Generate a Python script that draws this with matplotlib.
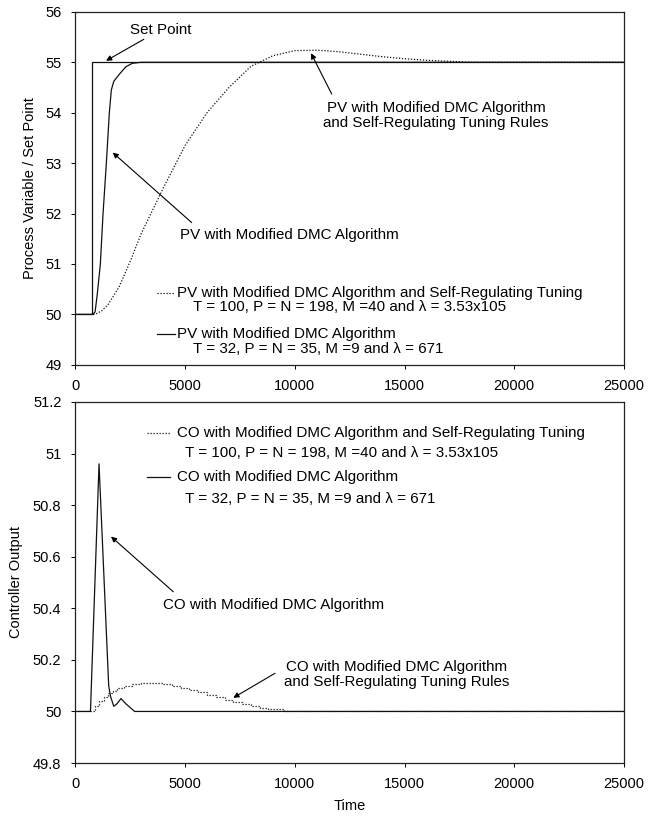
"""DMC set point response: process variable and controller output"""
import matplotlib
matplotlib.use("Agg")
import matplotlib.pyplot as plt

plt.rcParams['font.family'] = ['Liberation Sans', 'DejaVu Sans']
plt.rcParams['font.size'] = 10.9

# set point step
sp_time = [0, 780, 780, 25000]
sp_value = [50, 50, 55, 55]

# PV, modified DMC
pv_time = [0, 800, 900, 1000, 1140, 1263, 1414, 1550, 1640, 1750, 2000, 2300, 2600, 3000, 25000]
pv_value = [50, 50, 50.05, 50.4, 51, 52, 53, 54, 54.45, 54.62, 54.76, 54.91, 54.98, 55, 55]

# PV, modified DMC with self-regulating tuning
pv_sr_time = [0, 900, 1200, 1500, 2000, 2500, 3000, 3500, 4000, 5000, 6000, 7000, 8000,
              9000, 10000, 11000, 12000, 13000, 14000, 15000, 16000, 17000, 18000, 25000]
pv_sr_value = [50, 50, 50.07, 50.2, 50.55, 51.05, 51.6, 52.05, 52.5, 53.35, 54.0, 54.5, 54.92,
               55.13, 55.23, 55.24, 55.21, 55.16, 55.11, 55.07, 55.04, 55.02, 55.0, 55]

# CO, modified DMC
co_time = [0, 690, 1080, 1520, 1600, 1750, 1900, 2080, 2300, 2700, 25000]
co_value = [50, 50, 50.96, 50.10, 50.06, 50.02, 50.03, 50.05, 50.03, 50.0, 50]

# CO, modified DMC with self-regulating tuning (held between samples)
co_sr_time = [0, 750, 900, 1100, 1300, 1500, 1700, 1900, 2200, 2600, 3000, 3600, 4000, 4400,
              4800, 5200, 5600, 6000, 6400, 6800, 7200, 7600, 8000, 8400, 8800, 9500, 25000]
co_sr_value = [50, 50, 50.02, 50.04, 50.055, 50.07, 50.08, 50.09, 50.1, 50.105, 50.11, 50.11,
               50.105, 50.1, 50.09, 50.085, 50.075, 50.065, 50.055, 50.045, 50.035, 50.03,
               50.02, 50.015, 50.01, 50.0, 50.0]

xticks = [0, 5000, 10000, 15000, 20000, 25000]
pv_ticks = [49, 50, 51, 52, 53, 54, 55, 56]
co_ticks = [49.8, 50, 50.2, 50.4, 50.6, 50.8, 51, 51.2]

line_kw = dict(color='#111111', lw=0.9)
dot_kw = dict(color='#111111', lw=0.9, linestyle=(0, (1, 1.4)))
arrow_kw = dict(arrowstyle='-|>', color='black', lw=0.8, mutation_scale=8, shrinkA=0, shrinkB=0)

fig = plt.figure(figsize=(6.55, 8.18), dpi=100)
ax1 = fig.add_axes([0.115, 0.554, 0.8377, 0.4315])
ax2 = fig.add_axes([0.115, 0.0672, 0.8377, 0.4414])

# top panel
ax1.plot(sp_time, sp_value, **line_kw)
ax1.plot(pv_sr_time, pv_sr_value, **dot_kw)
ax1.plot(pv_time, pv_value, **line_kw)
ax1.set_xlim(0, 25000)
ax1.set_ylim(49, 56)
ax1.set_xticks(xticks)
ax1.set_yticks(pv_ticks)
ax1.set_ylabel('Process Variable / Set Point', fontsize=10.5)
ax1.yaxis.set_label_coords(-0.07, 0.5)

ax1.annotate('Set Point', xy=(1399, 55.03), xytext=(3905, 55.65),
             ha='center', va='center', arrowprops=arrow_kw)
ax1.annotate('', xy=(1704, 53.21), xytext=(5303, 51.82), arrowprops=arrow_kw)
ax1.text(9773, 51.57, 'PV with Modified DMC Algorithm', ha='center', va='center')
ax1.annotate('', xy=(10739, 55.18), xytext=(11682, 54.37), arrowprops=arrow_kw)
ax1.text(16436, 53.94, 'PV with Modified DMC Algorithm\nand Self-Regulating Tuning Rules',
         ha='center', va='center', linespacing=1.1)

ax1.plot([3723, 4543], [50.42, 50.42], **dot_kw)
ax1.text(4634, 50.42, 'PV with Modified DMC Algorithm and Self-Regulating Tuning', va='center')
ax1.text(5362, 50.15, 'T = 100, P = N = 198, M =40 and λ = 3.53x105', va='center')
ax1.plot([3723, 4543], [49.62, 49.62], **line_kw)
ax1.text(4634, 49.62, 'PV with Modified DMC Algorithm', va='center')
ax1.text(5362, 49.32, 'T = 32, P = N = 35, M =9 and λ = 671', va='center')

# bottom panel
ax2.step(co_sr_time, co_sr_value, where='post', **dot_kw)
ax2.plot(co_time, co_value, **line_kw)
ax2.set_xlim(0, 25000)
ax2.set_ylim(49.8, 51.2)
ax2.set_xticks(xticks)
ax2.set_yticks(co_ticks)
ax2.set_yticklabels(['49.8', '50', '50.2', '50.4', '50.6', '50.8', '51', '51.2'])
ax2.set_ylabel('Controller Output', fontsize=10.5)
ax2.yaxis.set_label_coords(-0.095, 0.5)
ax2.set_xlabel('Time', fontsize=10.5, labelpad=6)

ax2.plot([3253, 4314], [51.079, 51.079], **dot_kw)
ax2.text(4620, 51.079, 'CO with Modified DMC Algorithm and Self-Regulating Tuning', va='center')
ax2.text(4998, 51.002, 'T = 100, P = N = 198, M =40 and λ = 3.53x105', va='center')
ax2.plot([3253, 4314], [50.910, 50.910], **line_kw)
ax2.text(4620, 50.910, 'CO with Modified DMC Algorithm', va='center')
ax2.text(4998, 50.824, 'T = 32, P = N = 35, M =9 and λ = 671', va='center')

ax2.annotate('', xy=(1627, 50.678), xytext=(4465, 50.464), arrowprops=arrow_kw)
ax2.text(3982, 50.413, 'CO with Modified DMC Algorithm', va='center')
ax2.annotate('', xy=(7198, 50.053), xytext=(9098, 50.148), arrowprops=arrow_kw)
ax2.text(14654, 50.145, 'CO with Modified DMC Algorithm\nand Self-Regulating Tuning Rules',
         ha='center', va='center', linespacing=1.1)

for ax in (ax1, ax2):
    ax.tick_params(direction='out', length=3, width=0.7, labelsize=10.5, pad=7)
    for sp in ax.spines.values():
        sp.set_linewidth(0.9)
        sp.set_color('#222222')

fig.savefig('out.png', dpi=100)
